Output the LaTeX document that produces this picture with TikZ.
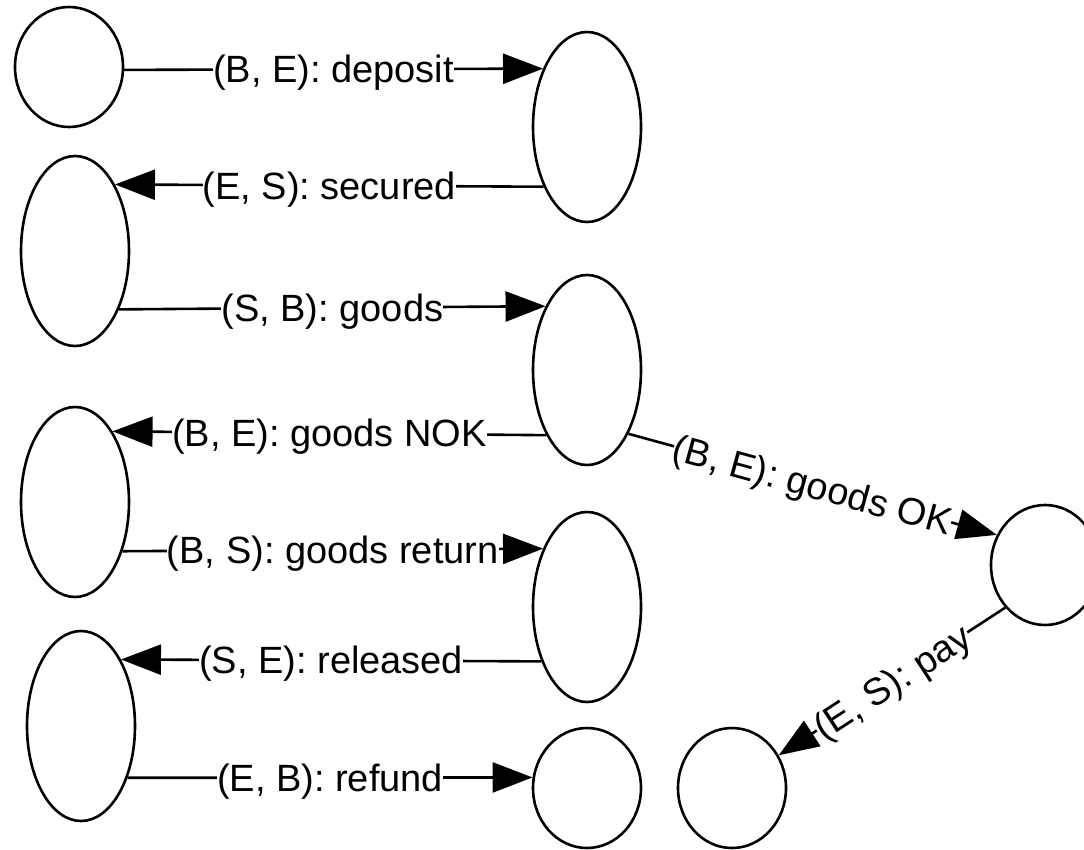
\documentclass[tikz,border=0pt]{standalone}
\usepackage{fontspec}
\setmainfont{Liberation Sans}
\usetikzlibrary{arrows.meta,shapes.geometric}
\begin{document}
\begin{tikzpicture}[x=1pt,y=-1pt,
  oval/.style={ellipse, draw, line width=2.6pt, inner sep=0pt, minimum width=108pt, minimum height=190pt},
  disc/.style={ellipse, draw, line width=2.6pt, inner sep=0pt, minimum width=108pt, minimum height=120pt},
  conn/.style={line width=2.6pt, -{Triangle[length=40pt,width=30pt]}},
  lbl/.style={fill=white, inner sep=0pt, font=\fontsize{38pt}{44pt}\selectfont, text height=27pt, text depth=0pt}]
\useasboundingbox (0,0) rectangle (1084,849);
\node[disc] (n1) at (69,67) {};
\node[oval] (n2) at (587,127) {};
\node[oval] (n3) at (75,251) {};
\node[oval] (n4) at (587,370) {};
\node[oval] (n5) at (75,502) {};
\node[oval] (n6) at (587,607) {};
\node[oval] (n7) at (81,726) {};
\node[disc] (n8) at (587,788) {};
\node[disc] (n9) at (732,788) {};
\node[disc] (n10) at (1045,565) {};
\draw[conn] (n1.-3.2) -- node[lbl]{(B, E): deposit} (n2.127.2);
\draw[conn] (n2.-126.4) -- node[lbl]{(E, S): secured} (n3.59.7);
\draw[conn] (n3.-53.2) -- node[lbl]{(S, B): goods} (n4.123.4);
\draw[conn] (n4.-122.7) -- node[lbl]{(B, E): goods NOK} (n5.62.2);
\draw[conn] (n5.-46.4) -- node[lbl]{(B, S): goods return} (n6.127.2);
\draw[conn] (n6.-130.2) -- node[lbl]{(S, E): released} (n7.59.3);
\draw[conn] (n7.-48.9) -- node[lbl]{(E, B): refund} (n8.169.4);
\draw[conn] (n4.-57.9) -- node[lbl,sloped]{(B, E): goods OK} (n10.148);
\draw[conn] (n10.-133.1) -- node[lbl,sloped]{(E, S): pay} (n9.35.1);
\end{tikzpicture}
\end{document}
